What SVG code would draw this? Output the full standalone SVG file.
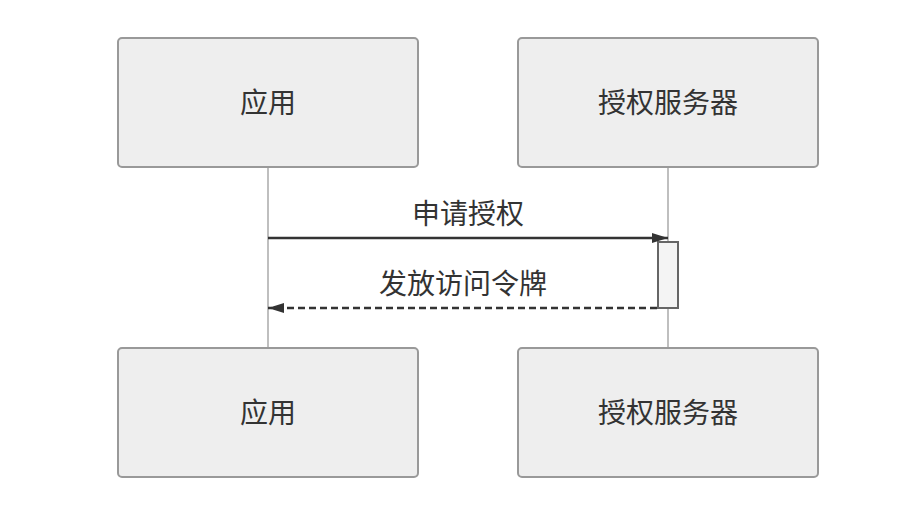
<svg xmlns="http://www.w3.org/2000/svg" width="922" height="514" viewBox="0 0 922 514">
<style>
.box{fill:#eeeeee;stroke:#999999;stroke-width:2}
.lbl{font-family:"Noto Sans CJK SC","Liberation Sans",sans-serif;font-size:28px;fill:#333333;text-anchor:middle}
.life{stroke:#aaaaaa;stroke-width:1.5;fill:none}
.msg{stroke:#333333;stroke-width:2.5;fill:none}
</style>
<defs>
<marker id="ah" markerWidth="16" markerHeight="10" refX="16" refY="5" orient="auto" markerUnits="userSpaceOnUse">
<path d="M0,0 L16,5 L0,10 Z" fill="#333333"/>
</marker>
</defs>
<g id="lifelines">
<line class="life" x1="268" y1="167" x2="268" y2="348"/>
<line class="life" x1="668" y1="167" x2="668" y2="348"/>
</g>
<g id="app-top"><rect class="box" x="118" y="38" width="300" height="129" rx="4"/><text class="lbl" x="268" y="113">应用</text></g>
<g id="auth-top"><rect class="box" x="518" y="38" width="300" height="129" rx="4"/><text class="lbl" x="668" y="113">授权服务器</text></g>
<g id="app-bottom"><rect class="box" x="118" y="348" width="300" height="129" rx="4"/><text class="lbl" x="268" y="423">应用</text></g>
<g id="auth-bottom"><rect class="box" x="518" y="348" width="300" height="129" rx="4"/><text class="lbl" x="668" y="423">授权服务器</text></g>
<g id="activation"><rect x="658" y="242" width="20" height="66" fill="#f4f4f4" stroke="#666666" stroke-width="2"/></g>
<g id="connectors">
<line class="msg" x1="268" y1="238" x2="668" y2="238" marker-end="url(#ah)"/>
<text class="lbl" x="468" y="224">申请授权</text>
<line class="msg" x1="657" y1="308" x2="268" y2="308" stroke-dasharray="7,4" marker-end="url(#ah)"/>
<text class="lbl" x="463" y="294">发放访问令牌</text>
</g>
</svg>
